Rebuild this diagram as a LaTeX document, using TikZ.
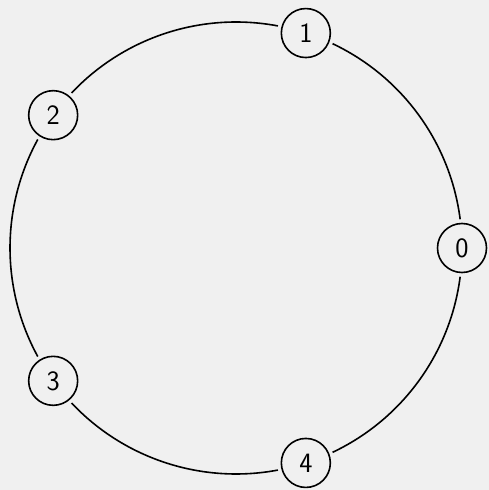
\documentclass[tikz,border=0pt]{standalone}
\usetikzlibrary{calc}
\definecolor{bgc}{HTML}{F0F0F0}
\tikzset{
  vtx/.style={circle, draw, line width=1.6pt, minimum size=49pt, inner sep=0pt, outer sep=3pt, font=\sffamily\fontsize{28}{32}\selectfont},
  edge/.style={line width=1.6pt}
}
\begin{document}
\begin{tikzpicture}[x=1pt,y=1pt]
\fill[bgc] (0,0) rectangle (489,490);
\useasboundingbox (0,0) rectangle (489,490);
\coordinate (c) at (236,242);
\foreach \k in {0,...,4} {
  \node[vtx] (n\k) at ($(c)+(\k*72:226)$) {\k};
}
\foreach \k in {0,...,4} {
  \draw[edge] ($(c)+(\k*72+7.3:226)$) arc[start angle=\k*72+7.3, end angle=\k*72+64.7, radius=226];
}
\end{tikzpicture}
\end{document}
